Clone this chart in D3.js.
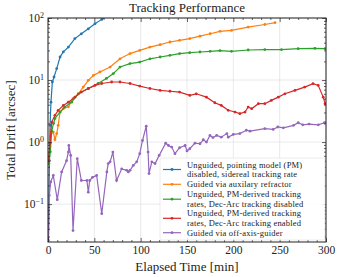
<!DOCTYPE html>
<html>
<head>
<meta charset="utf-8">
<script src="https://cdn.jsdelivr.net/npm/d3@7"></script>
<style>
  body { margin: 0; background: #fff; }
  text { font-family: "Liberation Serif", "DejaVu Serif", serif; fill: #222; }
</style>
</head>
<body>
<script>
var width = 337;
var height = 277;
var margin = {top: 18, right: 11, bottom: 35, left: 48};

// series values (time in minutes, drift in arcsec)
var blueT = [0.5, 1.5, 2.2, 3.2, 4.7, 6.5, 9.4, 13, 16.5, 22, 29, 36, 43.5, 50.7, 58, 63, 68];
var blueV = [0.02, 0.5, 1.86, 4.4, 9.3, 11.2, 15.3, 23.5, 28.4, 34, 46.6, 55.6, 67, 81, 95, 110, 125];

var orangeT = [0.5, 2, 3.5, 5.7, 7.5, 9.4, 11, 13, 16.5, 22, 27, 32.7, 38, 43.5, 49, 56, 67, 77.7, 88.5, 99, 110, 121, 131.6, 142, 153, 164, 175, 185.6, 198, 216, 234, 245];
var orangeV = [0.5, 1.0, 1.4, 1.45, 1.1, 1.37, 1.86, 3.05, 3.45, 3.7, 5.0, 6.0, 7.7, 9.9, 11.9, 13.5, 16.2, 22, 26.7, 30, 34, 37.2, 41, 43.6, 46.6, 51, 55.7, 61, 63, 71.5, 78.5, 84];

var greenT = [1, 2.5, 4, 6, 7.5, 13, 18, 25.5, 32.7, 43.5, 54, 63, 70.5, 77.7, 88.5, 99, 110, 121, 131.6, 142, 153, 164, 175, 185.6, 198, 216, 234, 252, 270, 288, 299];
var greenV = [0.45, 0.7, 1.5, 2.0, 2.4, 3.05, 3.67, 4.4, 6.0, 7.3, 8.8, 10.6, 12.7, 16.2, 18.4, 19.5, 22, 23.5, 25, 26.7, 27.6, 28.3, 29, 29.8, 29, 30.5, 31, 31, 32, 32.4, 32];

var redT = [1, 2, 4, 7.5, 11, 16.5, 22, 29, 36, 43.5, 50.7, 58, 68.7, 77.7, 88.5, 99, 110, 121, 131.6, 142, 153, 160, 171, 180, 187, 194.5, 201.8, 207, 212.6, 216, 219.8, 227, 234, 241, 248.5, 255.7, 266.5, 277, 286, 291.6, 297, 299];
var redV = [0.5, 0.95, 2.1, 2.7, 3.25, 3.9, 4.4, 5.3, 6.4, 7.3, 8.2, 8.8, 9.3, 9.3, 8.8, 8.0, 7.3, 6.8, 6.6, 6.4, 5.65, 6.0, 5.3, 4.3, 3.9, 3.25, 3.05, 2.87, 3.05, 3.67, 3.45, 4.16, 4.16, 4.7, 5.3, 6.0, 6.8, 7.7, 8.75, 8.2, 5.3, 4.16];

var purpleT = [0.3, 1.4, 2.9, 5.7, 10, 14.7, 20, 22, 22.5, 24.5, 27, 31.6, 36, 42, 43.5, 45, 48, 52.5, 58, 63.5, 65, 67, 70, 74, 79.5, 85, 86.7, 88.5, 92, 95.7, 99, 102, 106, 108, 109, 112, 115.5, 120, 127, 130, 133.5, 137, 142, 148, 150, 153, 158.6, 164, 167.6, 171, 174.8, 178, 182, 187, 193, 194.5, 200, 207, 214, 218, 234, 243, 248, 254, 265, 270, 275, 281.7, 291.7, 298.3, 305, 315, 323.3, 325];
var purpleV = [0.026, 0.138, 0.227, 0.29, 0.118, 0.33, 0.5, 0.69, 0.88, 0.61, 0.0375, 0.54, 0.24, 0.24, 0.156, 0.24, 0.27, 0.29, 0.07, 0.33, 0.45, 0.48, 0.69, 0.24, 0.37, 0.35, 0.33, 0.35, 0.42, 0.48, 0.65, 1.06, 1.8, 0.69, 0.31, 0.48, 0.45, 0.61, 0.96, 0.88, 0.83, 0.65, 0.81, 0.88, 0.72, 0.78, 0.96, 0.94, 1.09, 1.0, 1.28, 1.18, 1.28, 1.2, 1.37, 1.2, 1.33, 1.37, 1.55, 1.5, 1.65, 1.6, 1.75, 1.7, 1.86, 2.05, 1.9, 1.95, 1.9, 2.05, 2.2, 2.16, 2.32, 1.98];

var labels = [
  ["Unguided, pointing model (PM)", "disabled, sidereal tracking rate"],
  ["Guided via auxilary refractor"],
  ["Unguided, PM-derived tracking", "rates, Dec-Arc tracking disabled"],
  ["Unguided, PM-derived tracking", "rates, Dec-Arc tracking enabled"],
  ["Guided via off-axis-guider"]
];
var colors = ["#1f77b4", "#ff7f0e", "#2ca02c", "#d62728", "#9467bd"];

var xTicks = [0, 50, 100, 150, 200, 250, 300];
var yTicks = [0.1, 1, 10, 100];
var yExp = ["\u22121", "0", "1", "2"];

var series = [
  [blueT, blueV], [orangeT, orangeV], [greenT, greenV], [redT, redV], [purpleT, purpleV]
];

var x = d3.scaleLinear().domain([0, 300]).range([margin.left, width - margin.right]);
var y = d3.scaleLog().domain([0.0245, 100]).range([height - margin.bottom, margin.top]);

var svg = d3.select("body").append("svg")
  .attr("width", width)
  .attr("height", height);

svg.append("clipPath").attr("id", "clip")
  .append("rect")
  .attr("x", margin.left).attr("y", margin.top)
  .attr("width", width - margin.left - margin.right)
  .attr("height", height - margin.top - margin.bottom);

// grid
svg.append("g").selectAll("line").data(xTicks).enter().append("line")
  .attr("x1", function(d) { return x(d); }).attr("x2", function(d) { return x(d); })
  .attr("y1", margin.top).attr("y2", height - margin.bottom)
  .attr("stroke", "#e3e3e3").attr("stroke-width", 0.8);
svg.append("g").selectAll("line").data(yTicks).enter().append("line")
  .attr("x1", margin.left).attr("x2", width - margin.right)
  .attr("y1", function(d) { return y(d); }).attr("y2", function(d) { return y(d); })
  .attr("stroke", "#e3e3e3").attr("stroke-width", 0.8);

// lines
var line = d3.line()
  .x(function(d) { return x(d[0]); })
  .y(function(d) { return y(d[1]); });

var plot = svg.append("g").attr("clip-path", "url(#clip)");
series.forEach(function(s, i) {
  var pts = s[0].map(function(t, j) { return [t, s[1][j]]; });
  plot.append("path")
    .datum(pts)
    .attr("d", line)
    .attr("fill", "none")
    .attr("stroke", colors[i])
    .attr("stroke-width", 1.2);
  plot.selectAll(null)
    .data(pts)
    .enter()
    .append("circle")
    .attr("cx", function(d) { return x(d[0]); })
    .attr("cy", function(d) { return y(d[1]); })
    .attr("r", 1.4)
    .attr("fill", colors[i]);
});

// minor ticks
var yMinor = [];
[0.01, 0.1, 1, 10].forEach(function(b) {
  for (var k = 2; k <= 9; k++) {
    if (b * k >= 0.0245 && b * k <= 100) yMinor.push(b * k);
  }
});
var xMinor = d3.range(0, 301, 10).filter(function(d) { return d % 50 !== 0; });

function tickStyle(g) {
  g.select(".domain").remove();
  g.selectAll("line").attr("stroke", "#222").attr("stroke-width", 0.7);
}

svg.append("g").attr("transform", "translate(" + margin.left + ",0)")
  .call(d3.axisLeft(y).tickValues(yMinor).tickSize(-2).tickFormat("")).call(tickStyle);
svg.append("g").attr("transform", "translate(" + (width - margin.right) + ",0)")
  .call(d3.axisRight(y).tickValues(yMinor).tickSize(-2).tickFormat("")).call(tickStyle);
svg.append("g").attr("transform", "translate(0," + (height - margin.bottom) + ")")
  .call(d3.axisBottom(x).tickValues(xMinor).tickSize(-2).tickFormat("")).call(tickStyle);
svg.append("g").attr("transform", "translate(0," + margin.top + ")")
  .call(d3.axisTop(x).tickValues(xMinor).tickSize(-2).tickFormat("")).call(tickStyle);

// major ticks
var yAxis = svg.append("g").attr("transform", "translate(" + margin.left + ",0)")
  .call(d3.axisLeft(y).tickValues(yTicks).tickSize(-4).tickPadding(4).tickFormat(""))
  .call(tickStyle);
yAxis.selectAll(".tick text")
  .attr("font-size", 11.5)
  .each(function(d, i) {
    var t = d3.select(this);
    t.append("tspan").text("10");
    t.append("tspan").attr("dy", -4.5).attr("font-size", 8).text(yExp[i]);
  });
svg.append("g").attr("transform", "translate(" + (width - margin.right) + ",0)")
  .call(d3.axisRight(y).tickValues(yTicks).tickSize(-4).tickFormat("")).call(tickStyle);

svg.append("g").attr("transform", "translate(0," + (height - margin.bottom) + ")")
  .call(d3.axisBottom(x).tickValues(xTicks).tickSize(-4).tickPadding(4))
  .call(tickStyle)
  .selectAll("text").attr("font-size", 11.5);
svg.append("g").attr("transform", "translate(0," + margin.top + ")")
  .call(d3.axisTop(x).tickValues(xTicks).tickSize(-4).tickFormat("")).call(tickStyle);

svg.selectAll(".tick text").attr("font-family", "Liberation Serif").attr("fill", "#222");

// legend
var lg = svg.append("g");
lg.append("rect")
  .attr("x", 160).attr("y", 158)
  .attr("width", 165).attr("height", 82)
  .attr("rx", 2)
  .attr("fill", "#fff").attr("fill-opacity", 0.85)
  .attr("stroke", "#ddd").attr("stroke-width", 0.6);
var entryY = [169.5, 184.3, 199.2, 218.3, 232.7];
var lineGap = 9.5;
labels.forEach(function(lab, i) {
  var cy = entryY[i];
  lg.append("line")
    .attr("x1", 163).attr("x2", 181)
    .attr("y1", cy).attr("y2", cy)
    .attr("stroke", colors[i]).attr("stroke-width", 1.2);
  lg.append("circle").attr("cx", 172).attr("cy", cy).attr("r", 1.4).attr("fill", colors[i]);
  var top = cy - (lab.length - 1) * lineGap / 2;
  var txt = lg.append("text")
    .attr("x", 187)
    .attr("y", top)
    .attr("font-size", 8.5)
    .attr("letter-spacing", 0.2);
  lab.forEach(function(s, j) {
    txt.append("tspan")
      .attr("x", 187)
      .attr("y", top + j * lineGap)
      .attr("dy", "0.33em")
      .text(s);
  });
});

// frame
svg.append("rect")
  .attr("x", margin.left).attr("y", margin.top)
  .attr("width", width - margin.left - margin.right)
  .attr("height", height - margin.top - margin.bottom)
  .attr("fill", "none").attr("stroke", "#222").attr("stroke-width", 1);

// titles
svg.append("text")
  .attr("x", (margin.left + width - margin.right) / 2).attr("y", 12)
  .attr("text-anchor", "middle").attr("font-size", 13)
  .text("Tracking Performance");
svg.append("text")
  .attr("x", (margin.left + width - margin.right) / 2).attr("y", 271)
  .attr("text-anchor", "middle").attr("font-size", 13)
  .text("Elapsed Time [min]");
svg.append("text")
  .attr("transform", "translate(15," + ((margin.top + height - margin.bottom) / 2) + ") rotate(-90)")
  .attr("text-anchor", "middle").attr("font-size", 13)
  .text("Total Drift [arcsec]");
</script>
</body>
</html>
